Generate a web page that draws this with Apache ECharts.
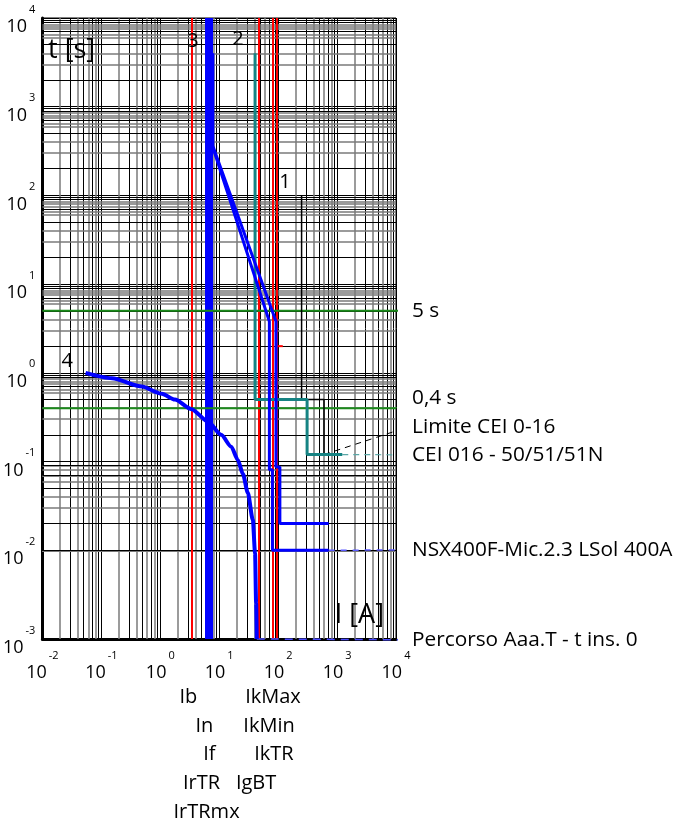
<!DOCTYPE html>
<html>
<head>
<meta charset="utf-8">
<script src="https://cdn.jsdelivr.net/npm/echarts@6/dist/echarts.min.js"></script>
<style>
  html, body { margin: 0; padding: 0; background: #fff; }
  #chart { width: 678px; height: 824px; }
</style>
</head>
<body>
<div id="chart"></div>
<script>
const FONT = '"Open Sans", "Noto Sans", sans-serif';

// Axis extents: current I [A] and time t [s]
const xMin = 0.01, xMax = 10000;
const yMin = 0.001, yMax = 10000;

// Sub-decade grid multipliers
const vGridDark = [3, 5, 7, 9];
const vGridLight = [2, 4, 6, 8];
const hGridDark = [2, 5, 7, 9, 9.5];
const hGridLight = [3, 4, 6, 6.5, 7.5, 8, 8.5];

// Time references [s]
const time5s = 5;
const time04s = 0.4;

// Vertical current markers [A]
const redMarkers = [3.4, 46, 81, 95];
const blueMarkers = [5.8, 6.4, 7.0, 7.6];

// NSX400F-Mic.2.3 LSol 400A, lower band
const nsxLowI = [6.8, 6.8, 71, 71, 80, 80, 720];
const nsxLowT = [4000, 460, 3.8, 0.081, 0.081, 0.01, 0.01];
// NSX400F-Mic.2.3 LSol 400A, upper band
const nsxHighI = [7.8, 7.8, 92, 92, 107, 107, 720];
const nsxHighT = [4000, 360, 3.8, 0.087, 0.087, 0.02, 0.02];

// CEI 016 - 50/51/51N protection
const ceiI = [40.6, 40.6, 310, 310, 1225];
const ceiT = [4000, 0.5, 0.5, 0.12, 0.12];

// Limite CEI 0-16
const limI = [250, 250, 600, 600];
const limT = [100, 0.5, 0.5, 0.12];

// Percorso Aaa.T - t ins. 0 (curve 4)
const pathI = [0.054, 0.151, 0.485, 1.06, 1.77, 3.39, 6.47, 10.8, 16, 20.7, 25.2, 30.6, 37.2, 40.6, 42.3, 43.4];
const pathT = [1.0, 0.87, 0.70, 0.58, 0.50, 0.39, 0.282, 0.2, 0.147, 0.1045, 0.0727, 0.0444, 0.022, 0.0093, 0.00255, 0.001];

// Small red setting mark
const redMarkI = [96, 120];
const redMarkT = [2, 2];

// Right-hand legend texts and their time anchors
const legendTexts = ['5 s', '0,4 s', 'Limite CEI 0-16', 'CEI 016 - 50/51/51N', 'NSX400F-Mic.2.3 LSol 400A', 'Percorso Aaa.T - t ins. 0'];
const legendT = [5, 0.52, 0.246, 0.119, 0.0101, 0.00098];
const legendI = 18700;   // text anchor current, right of the grid
const leaderI = 16200;   // end of the leader lines

// Curve numbers
const curveNums = ['1', '2', '3', '4'];
const curveNumI = [130, 20.8, 3.6, 0.0264];
const curveNumT = [139, 5680, 5430, 1.34];

// Current names under the axis, two columns
const leftNames = ['Ib', 'In', 'If', 'IrTR', 'IrTRmx'];
const leftNameI = [3.0, 5.6, 6.8, 5.0, 6.1];
const rightNames = ['IkMax', 'IkMin', 'IkTR', 'IgBT'];
const rightNameI = [81.7, 70, 85, 42.3];

const BLUE = '#0000ff';
const RED = '#ff0000';
const TEAL = '#168383';
const GREEN = '#1b8a1b';

const zip = (a, b) => a.map((v, i) => [v, b[i]]);

function gridMarks(mults, key, e0, e1, style) {
  const out = [];
  for (let e = e0; e < e1; e++) {
    for (const m of mults) out.push({ [key]: m * Math.pow(10, e), lineStyle: style });
  }
  return out;
}

const darkStyle = { color: '#000', width: 1, type: 'solid' };
const lightStyle = { color: '#7a7a7a', width: 1.5, type: 'solid' };

const gridData = []
  .concat(gridMarks(vGridLight, 'xAxis', -2, 4, lightStyle))
  .concat(gridMarks(vGridDark, 'xAxis', -2, 4, darkStyle))
  .concat(gridMarks(hGridLight, 'yAxis', -3, 4, lightStyle))
  .concat(gridMarks(hGridDark, 'yAxis', -3, 4, darkStyle));

function line(data, color, width, extra) {
  return Object.assign({
    type: 'line', data: data, showSymbol: false, symbol: 'none', silent: true,
    lineStyle: { color: color, width: width }, z: 5
  }, extra || {});
}

function vMarks(values, color, width, z) {
  return {
    type: 'line', data: [], silent: true, z: z,
    markLine: {
      silent: true, symbol: ['none', 'none'], label: { show: false }, animation: false,
      lineStyle: { color: color, width: width, type: 'solid' },
      data: values.map(v => ({ xAxis: v }))
    }
  };
}

const labelFmt = v => '{b|10}{s|' + Math.round(Math.log10(v)) + '}';
const labelRich = {
  b: { fontSize: 18, fontFamily: FONT, color: '#000', lineHeight: 36, verticalAlign: 'bottom' },
  s: { fontSize: 11, fontFamily: FONT, color: '#000', lineHeight: 36, verticalAlign: 'top', padding: [4, 0, 0, 2] }
};

const chart = echarts.init(document.getElementById('chart'));

const option = {
  animation: false,
  backgroundColor: '#fff',
  grid: { left: 40, top: 18, width: 356, height: 621, show: true, borderColor: '#000', borderWidth: 1 },
  xAxis: {
    type: 'log', logBase: 10, min: xMin, max: xMax,
    axisLine: { show: true, onZero: false, lineStyle: { color: '#000', width: 3 } },
    axisTick: { show: false },
    splitLine: { show: true, lineStyle: { color: '#000', width: 1 } },
    axisLabel: { margin: 7, formatter: labelFmt, rich: labelRich, showMinLabel: true, showMaxLabel: true }
  },
  yAxis: {
    type: 'log', logBase: 10, min: yMin, max: yMax,
    axisLine: { show: true, onZero: false, lineStyle: { color: '#000', width: 3 } },
    axisTick: { show: false },
    splitLine: { show: true, lineStyle: { color: '#000', width: 1 } },
    axisLabel: { margin: 7, formatter: labelFmt, rich: labelRich, showMinLabel: true, showMaxLabel: true }
  },
  series: [
    {
      type: 'line', data: [], silent: true, z: 1,
      markLine: { silent: true, symbol: ['none', 'none'], label: { show: false }, animation: false, data: gridData }
    },
    // time references
    line([[xMin, time5s], [leaderI * 0.9, time5s]], GREEN, 2, { clip: false }),
    line([[xMin, time04s], [xMax, time04s]], GREEN, 2),
    line([[xMax, time04s], [leaderI, legendT[1]]], GREEN, 1, { clip: false, lineStyle: { color: GREEN, width: 1, type: [3, 3] } }),
    // current markers
    vMarks(redMarkers, RED, 2, 4),
    vMarks(blueMarkers, BLUE, 2, 4),
    line(zip(redMarkI, redMarkT), RED, 2),
    // Limite CEI 0-16
    line(zip(limI, limT), '#000', 1.5),
    line([[limI[limI.length - 1], limT[limT.length - 1]], [leaderI, legendT[2]]], '#000', 1,
      { clip: false, lineStyle: { color: '#000', width: 1, type: [6, 5] } }),
    // CEI 016 - 50/51/51N
    line(zip(ceiI, ceiT), TEAL, 3, { z: 6 }),
    line([[ceiI[ceiI.length - 1], ceiT[ceiT.length - 1]], [leaderI, legendT[3]]], '#5aa6a6', 1.2,
      { clip: false, lineStyle: { color: '#5aa6a6', width: 1.2, type: [6, 5] } }),
    // NSX400F bands
    line(zip(nsxLowI, nsxLowT), BLUE, 3, { z: 7 }),
    line(zip(nsxHighI, nsxHighT), BLUE, 3, { z: 7 }),
    line([[nsxLowI[nsxLowI.length - 1], nsxLowT[nsxLowT.length - 1]], [leaderI, legendT[4]]], '#5a5aff', 1.5,
      { clip: false, lineStyle: { color: '#5a5aff', width: 1.5, type: [6, 6] } }),
    // Percorso curve 4
    line(zip(pathI, pathT), BLUE, 4, { smooth: 0.25, smoothMonotone: 'x', z: 8 }),
    line([[pathI[pathI.length - 1], pathT[pathT.length - 1]], [leaderI, legendT[5]]], '#4a4aff', 1.5,
      { clip: false, lineStyle: { color: '#4a4aff', width: 1.5, type: [8, 6] } })
  ]
};

chart.setOption(option);

const px = (I, t) => chart.convertToPixel({ gridIndex: 0 }, [I, t]);
const gridRect = { left: 40, top: 18, bottom: 639, right: 396 };

const graphics = [];
function text(str, x, y, size, align) {
  graphics.push({
    type: 'text', x: x, y: y, z: 20, silent: true,
    style: { text: str, fill: '#000', font: size + 'px ' + FONT, align: align || 'left', verticalAlign: 'middle' }
  });
}

legendTexts.forEach((s, i) => {
  const p = px(legendI, legendT[i]);
  text(s, p[0], p[1], 20.8, 'left');
});
curveNums.forEach((s, i) => {
  const p = px(curveNumI[i], curveNumT[i]);
  text(s, p[0], p[1], 20, 'center');
});
const rowY0 = 697, rowStep = 28.8;
leftNames.forEach((s, i) => text(s, px(leftNameI[i], 1)[0], rowY0 + i * rowStep, 20, 'center'));
rightNames.forEach((s, i) => text(s, px(rightNameI[i], 1)[0], rowY0 + i * rowStep, 20, 'center'));
text('t [s]', gridRect.left + 8, 50, 27, 'left');
text('I [A]', gridRect.right - 12, 615, 27, 'right');

chart.setOption({ graphic: graphics });
</script>
</body>
</html>
